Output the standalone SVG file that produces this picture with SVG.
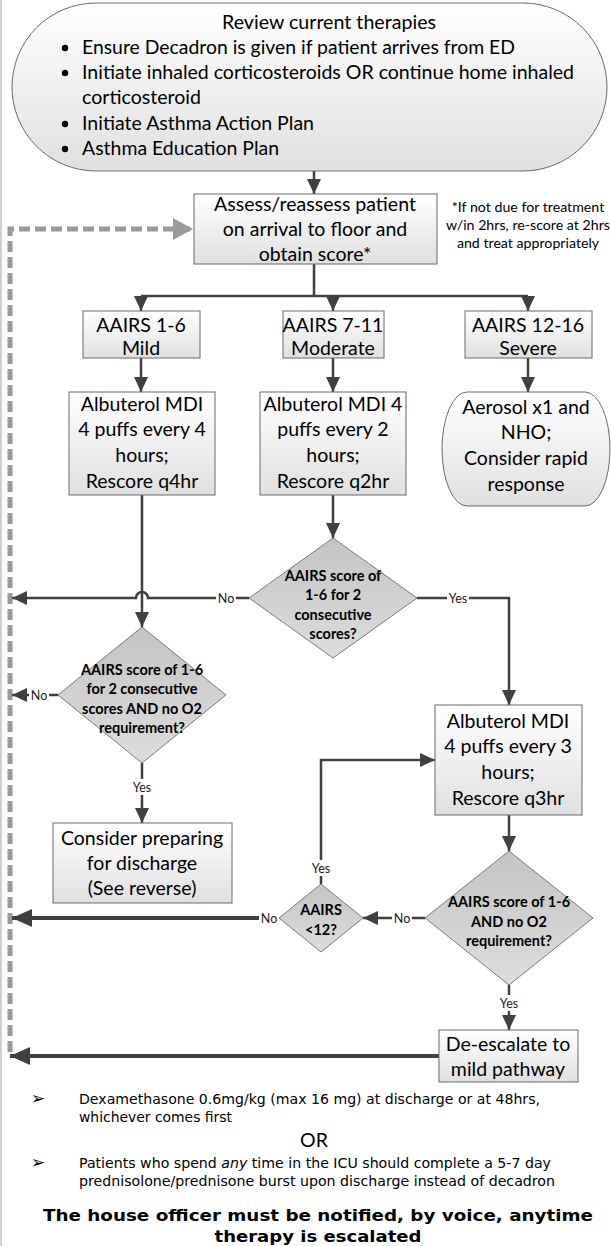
<svg xmlns="http://www.w3.org/2000/svg" width="611" height="1246" viewBox="0 0 611 1246">
<defs>
<linearGradient id="gBox" x1="0" y1="0" x2="0" y2="1">
<stop offset="0" stop-color="#ffffff"/><stop offset="1" stop-color="#e0e0e0"/>
</linearGradient>
<linearGradient id="gDia" x1="0" y1="0" x2="0" y2="1">
<stop offset="0" stop-color="#c4c4c4"/><stop offset="1" stop-color="#dddddd"/>
</linearGradient>
<marker id="ah" viewBox="0 0 15 14" refX="15" refY="7" markerWidth="15" markerHeight="14" markerUnits="userSpaceOnUse" orient="auto"><path d="M0,0 L15,7 L0,14 Z" fill="#404040"/></marker>
<marker id="ahBig" viewBox="0 0 20 18" refX="20" refY="9" markerWidth="20" markerHeight="18" markerUnits="userSpaceOnUse" orient="auto"><path d="M0,0 L20,9 L0,18 Z" fill="#404040"/></marker>
<marker id="ahGrey" viewBox="0 0 20 22" refX="20" refY="11" markerWidth="20" markerHeight="22" markerUnits="userSpaceOnUse" orient="auto"><path d="M0,0 L20,11 L0,22 Z" fill="#9a9a9a"/></marker>
</defs>
<style>
.box{fill:url(#gBox);stroke:#6a6a6a;stroke-width:1}
.dia{fill:url(#gDia);stroke:#7a7a7a;stroke-width:1}
.t{font-family:Lato,"Open Sans",sans-serif;font-size:19.5px;fill:#000;text-anchor:middle}
.tl{font-family:Lato,"Open Sans",sans-serif;font-size:19.5px;fill:#000}
.note{font-family:Lato,"Open Sans",sans-serif;font-size:14.2px;fill:#000;text-anchor:middle}
.b{font-family:Lato,"Open Sans",sans-serif;font-weight:bold;font-size:14.5px;fill:#000;text-anchor:middle}
.lbl{font-family:Lato,"Open Sans",sans-serif;font-size:12.5px;fill:#222;text-anchor:middle}
.lb{fill:#ffffff}
.c{fill:none;stroke:#404040;stroke-width:2.5}
.ck{fill:none;stroke:#404040;stroke-width:4}
.dash{fill:none;stroke:#9a9a9a;stroke-width:5;stroke-dasharray:11 5}
.bt{font-family:"DejaVu Sans",Verdana,sans-serif;font-size:14px;fill:#000}
.bul{font-family:"DejaVu Sans",Verdana,sans-serif;font-size:17px;fill:#000}
.bb{font-family:"DejaVu Sans",Verdana,sans-serif;font-weight:bold;font-size:16px;fill:#000;text-anchor:middle}
</style>
<rect x="0" y="0" width="611" height="1246" fill="#ffffff"/>
<line x1="1" y1="0" x2="1" y2="1246" stroke="#d0d0d0" stroke-width="2"/>

<g id="connectors">
<path class="dash" d="M10,1052 V229 H193" marker-end="url(#ahGrey)"/>
<path class="c" d="M314,171 V194" marker-end="url(#ah)"/>
<path class="c" d="M314,264 V296 M141,296 H528"/>
<path class="c" d="M141,296 V311" marker-end="url(#ah)"/>
<path class="c" d="M333,296 V311" marker-end="url(#ah)"/>
<path class="c" d="M528,296 V311" marker-end="url(#ah)"/>
<path class="c" d="M141,358 V392" marker-end="url(#ah)"/>
<path class="c" d="M333,358 V392" marker-end="url(#ah)"/>
<path class="c" d="M528,358 V392" marker-end="url(#ah)"/>
<path class="c" d="M142,495 V627" marker-end="url(#ah)"/>
<path class="c" d="M333,495 V538" marker-end="url(#ah)"/>
<path class="c" d="M249,598 H148 A6,6 0 0 0 136,598 H12" marker-end="url(#ah)"/>
<path class="c" d="M417,598 H509 V705" marker-end="url(#ah)"/>
<path class="c" d="M58,695 H12" marker-end="url(#ah)"/>
<path class="c" d="M142,763 V823" marker-end="url(#ah)"/>
<path class="c" d="M509,815 V851" marker-end="url(#ah)"/>
<path class="c" d="M425,918 H363" marker-end="url(#ah)"/>
<path class="c" d="M321,884 V760 H435" marker-end="url(#ah)"/>
<path class="ck" d="M279,918 H12" marker-end="url(#ahBig)"/>
<path class="c" d="M509,985 V1030" marker-end="url(#ah)"/>
<path class="ck" d="M439,1056 H10" marker-end="url(#ahBig)"/>
<rect class="lb" x="216" y="590" width="20" height="16"/><text class="lbl" x="226" y="603">No</text>
<rect class="lb" x="447" y="590" width="22" height="16"/><text class="lbl" x="458" y="603">Yes</text>
<rect class="lb" x="29" y="687" width="20" height="16"/><text class="lbl" x="39" y="700">No</text>
<rect class="lb" x="131" y="779" width="22" height="16"/><text class="lbl" x="142" y="792">Yes</text>
<rect class="lb" x="392" y="910" width="20" height="16"/><text class="lbl" x="402" y="923">No</text>
<rect class="lb" x="310" y="860" width="22" height="16"/><text class="lbl" x="321" y="873">Yes</text>
<rect class="lb" x="259" y="910" width="20" height="16"/><text class="lbl" x="269" y="923">No</text>
<rect class="lb" x="498" y="995" width="22" height="16"/><text class="lbl" x="509" y="1008">Yes</text>
</g>

<g id="review">
<path class="box" d="M96,3 H523 A84,84 0 0 1 523,171 H96 A84,84 0 0 1 96,3 Z"/>
<text class="t" x="329" y="29" textLength="214" lengthAdjust="spacingAndGlyphs">Review current therapies</text>
<circle cx="65" cy="48" r="3.2" fill="#000"/>
<circle cx="65" cy="73" r="3.2" fill="#000"/>
<circle cx="65" cy="124" r="3.2" fill="#000"/>
<circle cx="65" cy="149" r="3.2" fill="#000"/>
<text class="tl" x="82" y="54" textLength="433" lengthAdjust="spacingAndGlyphs">Ensure Decadron is given if patient arrives from ED</text>
<text class="tl" x="82" y="79" textLength="492" lengthAdjust="spacingAndGlyphs">Initiate inhaled corticosteroids OR continue home inhaled</text>
<text class="tl" x="82" y="104" textLength="119" lengthAdjust="spacingAndGlyphs">corticosteroid</text>
<text class="tl" x="82" y="130" textLength="232" lengthAdjust="spacingAndGlyphs">Initiate Asthma Action Plan</text>
<text class="tl" x="82" y="155" textLength="197" lengthAdjust="spacingAndGlyphs">Asthma Education Plan</text>
</g>

<g id="assess">
<rect class="box" x="194" y="194" width="243" height="70"/>
<text class="t" x="315" y="211">Assess/reassess patient</text>
<text class="t" x="315" y="236">on arrival to floor and</text>
<text class="t" x="315" y="261">obtain score*</text>
</g>

<g id="note">
<text class="note" x="528" y="212">*If not due for treatment</text>
<text class="note" x="528" y="230">w/in 2hrs, re-score at 2hrs</text>
<text class="note" x="528" y="248">and treat appropriately</text>
</g>

<g id="mild">
<rect class="box" x="83" y="311" width="117" height="47"/>
<text class="t" x="141" y="332">AAIRS 1-6</text>
<text class="t" x="141" y="355">Mild</text>
</g>
<g id="moderate">
<rect class="box" x="283" y="311" width="101" height="47"/>
<text class="t" x="333" y="332">AAIRS 7-11</text>
<text class="t" x="333" y="355">Moderate</text>
</g>
<g id="severe">
<rect class="box" x="465" y="311" width="127" height="47"/>
<text class="t" x="528" y="332">AAIRS 12-16</text>
<text class="t" x="528" y="355">Severe</text>
</g>

<g id="alb4">
<rect class="box" x="69" y="392" width="146" height="103"/>
<text class="t" x="142" y="411">Albuterol MDI</text>
<text class="t" x="142" y="436">4 puffs every 4</text>
<text class="t" x="142" y="462">hours;</text>
<text class="t" x="142" y="488">Rescore q4hr</text>
</g>
<g id="alb2">
<rect class="box" x="260" y="392" width="146" height="103"/>
<text class="t" x="333" y="411">Albuterol MDI 4</text>
<text class="t" x="333" y="436">puffs every 2</text>
<text class="t" x="333" y="462">hours;</text>
<text class="t" x="333" y="488">Rescore q2hr</text>
</g>
<g id="aerosol">
<path class="box" d="M467,392 H585 A25,57 0 0 1 585,506 H467 A25,57 0 0 1 467,392 Z"/>
<text class="t" x="526" y="414">Aerosol x1 and</text>
<text class="t" x="526" y="439">NHO;</text>
<text class="t" x="526" y="465">Consider rapid</text>
<text class="t" x="526" y="491">response</text>
</g>

<g id="decision1">
<path class="dia" d="M333,538 L417,598 L333,658 L249,598 Z"/>
<text class="b" x="333" y="581">AAIRS score of</text>
<text class="b" x="333" y="600">1-6 for 2</text>
<text class="b" x="333" y="620">consecutive</text>
<text class="b" x="333" y="639">scores?</text>
</g>

<g id="decision2">
<path class="dia" d="M142,627 L226,695 L142,763 L58,695 Z"/>
<text class="b" x="142" y="675">AAIRS score of 1-6</text>
<text class="b" x="142" y="694">for 2 consecutive</text>
<text class="b" x="142" y="714">scores AND no O2</text>
<text class="b" x="142" y="733">requirement?</text>
</g>

<g id="discharge">
<rect class="box" x="53" y="823" width="179" height="80"/>
<text class="t" x="142" y="845">Consider preparing</text>
<text class="t" x="142" y="870">for discharge</text>
<text class="t" x="142" y="895">(See reverse)</text>
</g>

<g id="alb3">
<rect class="box" x="435" y="705" width="147" height="110"/>
<text class="t" x="508" y="728">Albuterol MDI</text>
<text class="t" x="508" y="753">4 puffs every 3</text>
<text class="t" x="508" y="779">hours;</text>
<text class="t" x="508" y="805">Rescore q3hr</text>
</g>

<g id="decision3">
<path class="dia" d="M509,851 L593,918 L509,985 L425,918 Z"/>
<text class="b" x="509" y="907">AAIRS score of 1-6</text>
<text class="b" x="509" y="927">AND no O2</text>
<text class="b" x="509" y="946">requirement?</text>
</g>

<g id="decision4">
<path class="dia" d="M321,884 L363,918 L321,952 L279,918 Z"/>
<text class="b" x="321" y="915">AAIRS</text>
<text class="b" x="321" y="935">&lt;12?</text>
</g>

<g id="deescalate">
<rect class="box" x="439" y="1030" width="139" height="52"/>
<text class="t" x="508" y="1051">De-escalate to</text>
<text class="t" x="508" y="1076">mild pathway</text>
</g>

<g id="footer">
<text class="bul" x="31" y="1104">➢</text>
<text class="bt" x="79" y="1104" textLength="461" lengthAdjust="spacingAndGlyphs">Dexamethasone 0.6mg/kg (max 16 mg) at discharge or at 48hrs,</text>
<text class="bt" x="79" y="1122" textLength="153" lengthAdjust="spacingAndGlyphs">whichever comes first</text>
<text class="t" x="314" y="1147">OR</text>
<text class="bul" x="31" y="1168">➢</text>
<text class="bt" x="79" y="1168" textLength="472" lengthAdjust="spacingAndGlyphs">Patients who spend <tspan font-style="italic">any</tspan> time in the ICU should complete a 5-7 day</text>
<text class="bt" x="79" y="1186" textLength="476" lengthAdjust="spacingAndGlyphs">prednisolone/prednisone burst upon discharge instead of decadron</text>
<text class="bb" x="318" y="1221" textLength="550" lengthAdjust="spacingAndGlyphs">The house officer must be notified, by voice, anytime</text>
<text class="bb" x="318" y="1242" textLength="207" lengthAdjust="spacingAndGlyphs">therapy is escalated</text>
</g>
</svg>
